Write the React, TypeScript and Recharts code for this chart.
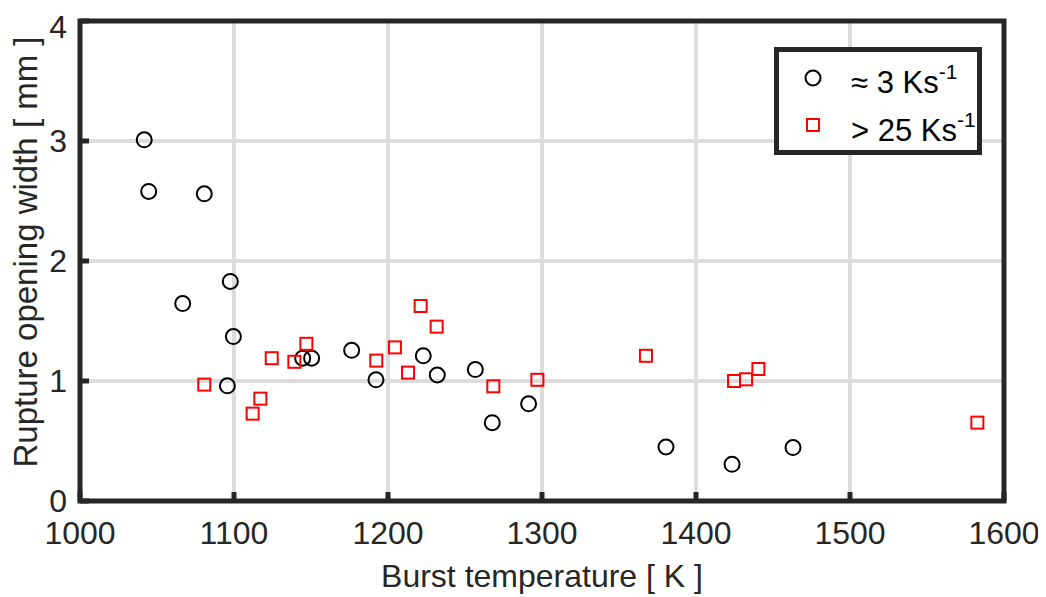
import React from "react";
import {
    ScatterChart,
    Scatter,
    XAxis,
    YAxis,
    CartesianGrid,
    ReferenceArea,
    Label,
} from "recharts";

// heating rate ~3 K/s
const slowTemp = [1041.7, 1044.6, 1080.7, 1097.6, 1066.7, 1099.6, 1144.6, 1150.4, 1176.4, 1095.7, 1192.2, 1222.9, 1232.0, 1256.7, 1291.3, 1267.7, 1380.5, 1423.4, 1463.0];
const slowWidth = [3.01, 2.58, 2.56, 1.83, 1.645, 1.37, 1.19, 1.19, 1.256, 0.96, 1.01, 1.21, 1.05, 1.095, 0.81, 0.653, 0.45, 0.306, 0.445];

// heating rate > 25 K/s
const fastTemp = [1080.7, 1117.1, 1112.1, 1124.5, 1139.2, 1147.0, 1192.4, 1204.5, 1213.0, 1221.2, 1231.6, 1268.4, 1297.0, 1367.5, 1424.7, 1432.5, 1440.5, 1582.7];
const fastWidth = [0.97, 0.853, 0.728, 1.19, 1.16, 1.31, 1.17, 1.28, 1.07, 1.625, 1.453, 0.956, 1.01, 1.21, 1.0, 1.014, 1.1, 0.653];

const xTicks = [1000, 1100, 1200, 1300, 1400, 1500, 1600];
const yTicks = [0, 1, 2, 3, 4];

const slowData = slowTemp.map((t, i) => ({ t, w: slowWidth[i] }));
const fastData = fastTemp.map((t, i) => ({ t, w: fastWidth[i] }));

const ink = "#262626";
const font = '"Liberation Sans", Arial, sans-serif';

const Ring = (p: any) => (
    <circle cx={p.cx} cy={p.cy} r={7.5} fill="none" stroke="#000" strokeWidth={2} />
);
const Box = (p: any) => (
    <rect x={p.cx - 6} y={p.cy - 6} width={12} height={12} fill="none" stroke="#ff0000" strokeWidth={2} />
);

const YLabel = ({ viewBox }: any) => {
    const x = 29;
    const y = viewBox.y + viewBox.height / 2 - 9;
    return (
        <text x={x} y={y} transform={`rotate(-90 ${x} ${y})`} textAnchor="middle"
              fill={ink} fontSize={33} fontFamily={font}>
            Rupture opening width [ mm ]
        </text>
    );
};

function LegendBox() {
    return (
        <div style={{
            position: "absolute", left: 766, top: 39, width: 208, height: 108,
            border: `5px solid ${ink}`, boxSizing: "border-box", background: "#fff",
        }}>
            <svg width={198} height={98} style={{ display: "block" }}>
                <circle cx={34} cy={26} r={7.5} fill="none" stroke="#000" strokeWidth={2} />
                <rect x={28} y={67} width={12} height={12} fill="none" stroke="#ff0000" strokeWidth={2} />
                <text x={72} y={41} fontSize={31} fontFamily={font} fill="#000">
                    ≈ 3 Ks<tspan dy={-14} fontSize={21}>-1</tspan>
                </text>
                <text x={72} y={89} fontSize={31} fontFamily={font} fill="#000">
                    &gt; 25 Ks<tspan dy={-14} fontSize={21}>-1</tspan>
                </text>
            </svg>
        </div>
    );
}

export default function App() {
    const tickStyle = { fill: ink, fontSize: 32, fontFamily: font };
    return (
        <div style={{ position: "relative", width: 1038, height: 589 }}>
            <ScatterChart width={1038} height={589}
                          margin={{ top: 13, right: 42, bottom: 0, left: 0 }}>
                <CartesianGrid stroke="#dcdcdc" strokeWidth={4} />
                <XAxis type="number" dataKey="t" domain={[1000, 1600]} ticks={xTicks}
                       height={96} axisLine={false} tickSize={-9} tickMargin={29}
                       tickLine={{ stroke: ink, strokeWidth: 5 }} tick={tickStyle}
                       allowDataOverflow>
                    <Label value="Burst temperature [ K ]" position="insideBottom" offset={10}
                           fill={ink} fontSize={32} fontFamily={font} />
                </XAxis>
                <XAxis xAxisId="top" orientation="top" type="number" domain={[1000, 1600]}
                       ticks={xTicks} height={0} axisLine={false} tickSize={-9}
                       tickLine={{ stroke: ink, strokeWidth: 5 }} tick={false} />
                <YAxis type="number" dataKey="w" domain={[0, 4]} ticks={yTicks}
                       width={72} axisLine={false} tickSize={-9} tickMargin={22}
                       tickLine={{ stroke: ink, strokeWidth: 5 }} tick={tickStyle}
                       allowDataOverflow>
                    <Label content={<YLabel />} />
                </YAxis>
                <YAxis yAxisId="right" orientation="right" type="number" domain={[0, 4]}
                       ticks={yTicks} width={0} axisLine={false} tickSize={-9}
                       tickLine={{ stroke: ink, strokeWidth: 5 }} tick={false} />
                <Scatter name="≈ 3 Ks-1" data={slowData} shape={Ring} isAnimationActive={false} />
                <Scatter name="> 25 Ks-1" data={fastData} shape={Box} isAnimationActive={false} />
                <ReferenceArea x1={1000} x2={1600} y1={0} y2={4} fill="none" fillOpacity={0}
                               stroke={ink} strokeWidth={5} />
            </ScatterChart>
            <LegendBox />
        </div>
    );
}
